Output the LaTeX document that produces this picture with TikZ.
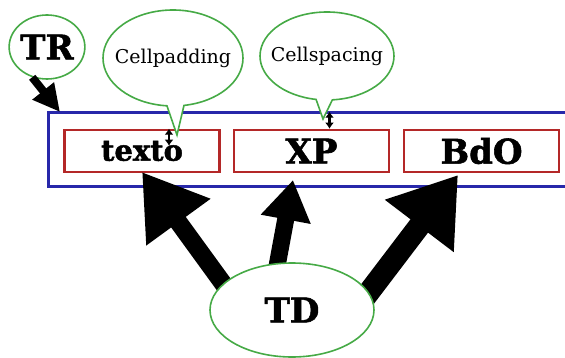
\documentclass[tikz,border=0pt]{standalone}
\usepackage{fontspec}
\setmainfont{DejaVu Serif}
\newfontfamily\gruesa[BoldFeatures={FakeBold=1.6}]{DejaVu Serif}
\usepackage{xcolor}
\usepackage{tikz}
\usetikzlibrary{shapes.geometric,shapes.callouts,arrows.meta,backgrounds,positioning}

\definecolor{azul}{RGB}{40,40,170}
\definecolor{rojo}{RGB}{180,40,40}
\definecolor{verde}{RGB}{70,170,70}

\tikzset{
	celda/.style={draw=rojo,line width=2.6pt,minimum width=155pt,minimum height=42pt,inner sep=0pt},
	grande/.style={font=\gruesa\bfseries\fontsize{34}{34}\selectfont},
	globo/.style={ellipse callout,draw=verde,fill=white,line width=1.6pt,inner ysep=0pt,inner xsep=-9pt,
		callout pointer arc=14,font=\fontsize{19}{19}\selectfont},
	flecha/.style n args={3}{line width=#1,-{Triangle[length=#2,width=#3]},shorten <=-12pt},
	cota/.style={{Latex[length=6pt,width=9pt]}-{Latex[length=6pt,width=9pt]},line width=2.6pt}
}

\begin{document}
\begin{tikzpicture}[x=1pt,y=-1pt]
	\useasboundingbox (0,0) rectangle (565,358);
	% tabla y celdas
	\begin{scope}[on background layer]
		\draw[azul,line width=3pt] (48,113) rectangle (580,187);
		\node[celda,grande,font=\gruesa\bfseries\fontsize{29}{29}\selectfont] (texto) at (142,151) {texto};
		\node[celda,grande] (XP) at (311.5,151) {XP};
		\node[celda,grande] (BdO) at (481.5,151) {BdO};
	\end{scope}
	% globos
	\coordinate (pPad) at (177,135);
	\coordinate (pSpc) at (323,119);
	\node[globo,minimum width=140pt,minimum height=96pt,callout absolute pointer={(pPad)}] (pad) at (173,58) {Cellpadding};
	\node[globo,minimum width=134pt,minimum height=88pt,callout absolute pointer={(pSpc)}] (spc) at (327,56) {Cellspacing};
	\draw[cota] ([xshift=27pt]texto.north) -- ++(0,17);
	\draw[cota] ([xshift=18pt]XP.north) -- ++(0,-17);
	% TR
	\node[ellipse,draw=verde,fill=white,line width=1.6pt,inner sep=0pt,minimum width=70pt,minimum height=64pt,grande] (TR) at (47,47) {TR};
	\coordinate (esq) at (60,112);
	\draw[line width=8pt,-{Triangle[length=27pt,width=26pt]}] (TR.244) -- (esq);
	% TD
	\node[ellipse,draw=verde,fill=white,line width=1.6pt,minimum width=164pt,minimum height=94pt,grande] (TD) at (292,310) {TD};
	\coordinate (pT) at (142,172);
	\coordinate (pX) at (293,180);
	\coordinate (pB) at (458,175);
	\begin{scope}[on background layer]
		\draw[flecha={18pt}{62pt}{75pt}] (TD.159) -- (pT);
		\draw[flecha={17pt}{40pt}{48pt}] (TD.107) -- (pX);
		\draw[flecha={22pt}{64pt}{82pt}] (TD.13) -- (pB);
	\end{scope}
\end{tikzpicture}
\end{document}
